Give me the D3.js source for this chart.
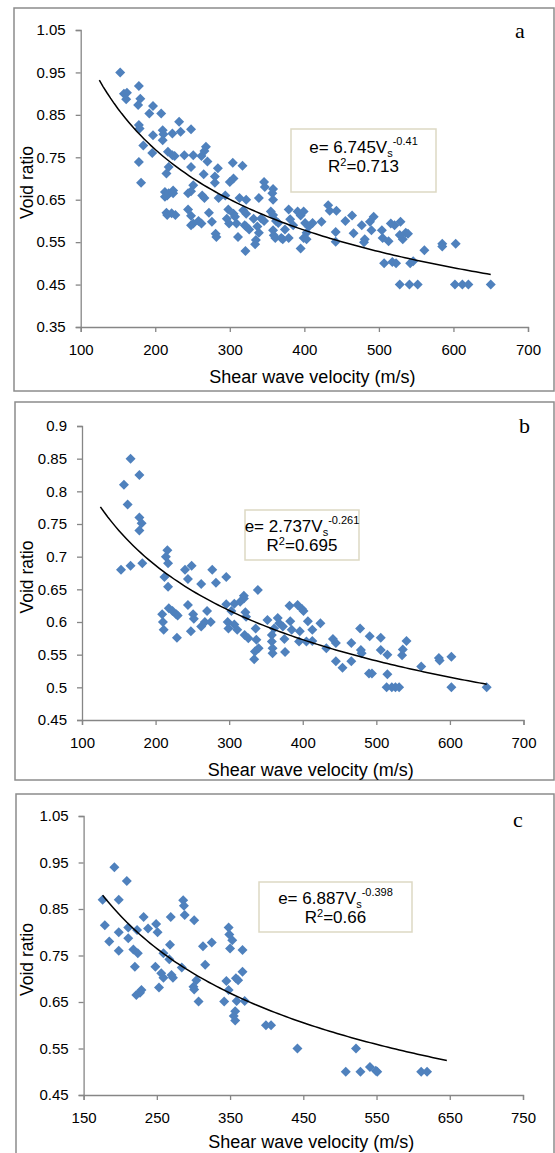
<!DOCTYPE html>
<html>
<head>
<meta charset="utf-8">
<script src="https://cdn.jsdelivr.net/npm/d3@7"></script>
<style>
  body { margin: 0; background: #fff; }
  svg text { font-family: "Liberation Sans", Arial, sans-serif; fill: #000; }
</style>
</head>
<body>
<div id="run"></div>
<script>
var width = 555,
    height = 1153;

// panel a : all samples
var vsA = [153,158,162,161,178,180,177,197,192,208,178,179,197,184,196,178,181,210,211,210,
           223,232,234,248,217,223,226,239,251,262,268,266,270,248,218,215,265,280,284,304,
           317,305,300,280,251,248,213,224,346,347,358,216,213,218,224,215,216,222,227,244,
           244,248,251,248,258,262,263,266,272,276,281,282,285,294,298,296,299,305,307,311,
           309,313,318,322,322,320,322,321,326,332,337,335,334,339,339,342,346,357,358,355,
           358,358,359,361,362,365,369,371,374,379,381,379,385,391,395,395,399,401,403,399,
           403,406,411,423,432,434,443,442,442,455,464,466,477,481,480,488,493,490,504,505,
           507,513,516,518,521,529,528,532,536,539,542,528,541,552,561,585,585,603,602,612,
           620,650,523,546];
var eA  = [0.95,0.90,0.902,0.887,0.918,0.888,0.873,0.871,0.853,0.853,0.826,0.818,0.802,0.778,0.76,0.739,0.69,0.814,0.804,0.79,
           0.806,0.834,0.81,0.816,0.763,0.755,0.753,0.755,0.755,0.753,0.775,0.765,0.74,0.727,0.727,0.712,0.71,0.705,0.724,0.737,
           0.73,0.70,0.692,0.69,0.684,0.67,0.668,0.672,0.692,0.68,0.675,0.66,0.657,0.665,0.665,0.619,0.614,0.618,0.614,0.665,
           0.627,0.612,0.594,0.59,0.60,0.594,0.66,0.654,0.619,0.598,0.57,0.562,0.654,0.66,0.627,0.605,0.594,0.617,0.61,0.562,
           0.594,0.654,0.625,0.617,0.65,0.59,0.587,0.529,0.58,0.605,0.587,0.555,0.545,0.572,0.654,0.606,0.60,0.665,0.65,0.622,
           0.614,0.578,0.566,0.56,0.60,0.595,0.56,0.557,0.58,0.627,0.604,0.56,0.59,0.622,0.613,0.535,0.622,0.595,0.572,0.56,
           0.557,0.587,0.595,0.598,0.637,0.624,0.624,0.574,0.551,0.60,0.613,0.571,0.59,0.557,0.55,0.598,0.61,0.578,0.578,0.56,
           0.50,0.552,0.594,0.503,0.59,0.598,0.567,0.557,0.572,0.57,0.50,0.45,0.45,0.45,0.531,0.546,0.54,0.546,0.45,0.45,
           0.45,0.45,0.50,0.505];

// panel b
var vsB = [166,157,178,162,178,181,178,153,166,182,216,214,217,212,217,240,249,244,262,277,
           282,296,339,320,209,210,211,218,223,228,230,229,244,251,252,248,262,270,275,267,
           296,298,299,303,307,307,311,315,320,322,323,321,326,336,337,340,335,334,352,358,
           358,359,359,361,366,368,373,375,376,382,383,385,393,396,395,399,401,407,405,413,
           413,424,432,441,445,445,454,466,466,478,479,480,490,494,491,506,506,515,515,514,
           521,526,531,535,536,541,561,585,586,602,602,650];
var eB  = [0.85,0.81,0.825,0.78,0.76,0.751,0.74,0.68,0.686,0.69,0.71,0.70,0.69,0.669,0.654,0.68,0.686,0.666,0.658,0.68,
           0.66,0.669,0.649,0.64,0.612,0.60,0.588,0.621,0.617,0.612,0.61,0.576,0.626,0.612,0.605,0.586,0.593,0.617,0.60,0.60,
           0.627,0.60,0.59,0.617,0.628,0.596,0.588,0.631,0.636,0.615,0.608,0.58,0.575,0.59,0.573,0.56,0.555,0.543,0.603,0.58,
           0.57,0.56,0.552,0.59,0.606,0.598,0.593,0.574,0.554,0.625,0.601,0.588,0.626,0.586,0.57,0.62,0.617,0.601,0.57,0.588,
           0.571,0.598,0.56,0.574,0.568,0.54,0.53,0.54,0.568,0.59,0.557,0.552,0.521,0.521,0.578,0.576,0.557,0.55,0.52,0.50,
           0.50,0.50,0.50,0.549,0.558,0.571,0.532,0.545,0.541,0.547,0.50,0.50];

// panel c
var vsC = [192,209,176,198,179,198,185,198,211,211,218,224,220,223,232,238,249,251,248,256,
           269,259,268,267,270,286,287,288,301,284,313,325,316,348,349,353,350,367,367,259,
           272,253,222,229,227,300,301,304,307,342,345,348,358,361,359,370,357,355,357,399,
           406,442,508,522,528,541,549,551,611,619];
var eC  = [0.94,0.91,0.87,0.87,0.815,0.80,0.78,0.76,0.81,0.787,0.763,0.755,0.726,0.805,0.833,0.808,0.818,0.80,0.726,0.712,
           0.833,0.755,0.773,0.742,0.708,0.869,0.857,0.837,0.826,0.724,0.77,0.778,0.73,0.81,0.795,0.783,0.765,0.762,0.715,0.702,
           0.702,0.681,0.665,0.676,0.670,0.683,0.677,0.697,0.651,0.651,0.695,0.676,0.701,0.697,0.652,0.652,0.63,0.62,0.61,0.60,
           0.60,0.55,0.50,0.55,0.50,0.51,0.502,0.50,0.50,0.50];

// axis ticks
var xTicksAB = [100,200,300,400,500,600,700];
var xTicksC  = [150,250,350,450,550,650,750];
var yTicksA  = [0.35,0.45,0.55,0.65,0.75,0.85,0.95,1.05];
var yTicksB  = [0.45,0.5,0.55,0.6,0.65,0.7,0.75,0.8,0.85,0.9];
var yTicksC  = [0.45,0.55,0.65,0.75,0.85,0.95,1.05];

// power fits e = k * Vs^p, drawn over [from, to]
var fitA = [6.745, -0.41, 125, 650];
var fitB = [2.737, -0.261, 125, 650];
var fitC = [6.887, -0.398, 176, 650];

var panels = [
  { id: "a", vs: vsA, e: eA, xt: xTicksAB, yt: yTicksA, fit: fitA, k: "6.745", p: "-0.41", r2: "0.713",
    frame: [14, 8, 554, 391], x: [80.7, 528], y: [327, 30], titleDy: 56,
    box: [291, 129, 436, 192], l1: 153, l2: 172, letter: [515, 38] },
  { id: "b", vs: vsB, e: eB, xt: xTicksAB, yt: yTicksB, fit: fitB, k: "2.737", p: "-0.261", r2: "0.695",
    frame: [15, 402, 554, 780], x: [82, 523.5], y: [720, 426], titleDy: 56,
    box: [245, 510, 359, 560], l1: 532, l2: 551, letter: [519, 433] },
  { id: "c", vs: vsC, e: eC, xt: xTicksC, yt: yTicksC, fit: fitC, k: "6.887", p: "-0.398", r2: "0.66",
    frame: [16, 794, 554, 1170], x: [83.6, 523], y: [1095, 816], titleDy: 53,
    box: [259, 882, 412, 932], l1: 904, l2: 923, letter: [513, 827] }
];

var svg = d3.select("#run").append("svg")
    .attr("width", width)
    .attr("height", height);

var axisColor = "#868686",
    dotColor = "#4f81bd";

panels.forEach(drawPanel);

function drawPanel(p) {
  var g = svg.append("g");

  g.append("rect")
      .attr("x", p.frame[0])
      .attr("y", p.frame[1])
      .attr("width", p.frame[2] - p.frame[0])
      .attr("height", p.frame[3] - p.frame[1])
      .style("fill", "#fff")
      .style("stroke", "#8c8c8c")
      .style("stroke-width", 1.5);

  var x = d3.scaleLinear().domain(d3.extent(p.xt)).range(p.x);
  var y = d3.scaleLinear().domain(d3.extent(p.yt)).range(p.y);

  // axes
  var xAxis = g.append("g")
      .attr("transform", "translate(0," + p.y[0] + ")")
      .call(d3.axisBottom(x).tickValues(p.xt).tickSize(5).tickPadding(12).tickFormat(d3.format("d")));
  var yAxis = g.append("g")
      .attr("transform", "translate(" + p.x[0] + ",0)")
      .call(d3.axisLeft(y).tickValues(p.yt).tickSize(5).tickPadding(10).tickFormat(function(d) { return +d.toFixed(2) + ""; }));

  [xAxis, yAxis].forEach(function(a) {
    a.select(".domain").style("stroke", axisColor).style("stroke-width", 1.3);
    a.selectAll(".tick line").style("stroke", axisColor).style("stroke-width", 1.3);
    a.selectAll(".tick text").style("font-size", "15px").style("fill", "#000")
        .style("font-family", '"Liberation Sans", Arial, sans-serif');
  });

  // points
  var pts = p.vs.map(function(v, i) { return [v, p.e[i]]; });
  var diamond = d3.symbol().type(d3.symbolSquare).size(50);
  g.append("g").selectAll("path")
      .data(pts)
    .enter().append("path")
      .attr("d", diamond)
      .attr("transform", function(d) { return "translate(" + x(d[0]) + "," + y(d[1]) + ") rotate(45)"; })
      .style("fill", dotColor);

  // trend line
  var f = p.fit;
  var vals = d3.range(f[2], f[3] + 0.1, 5);
  var line = d3.line()
      .x(function(v) { return x(v); })
      .y(function(v) { return y(f[0] * Math.pow(v, f[1])); });
  g.append("path")
      .datum(vals)
      .attr("d", line)
      .style("fill", "none")
      .style("stroke", "#000")
      .style("stroke-width", 1.5);

  // equation box
  var b = p.box,
      cx = (b[0] + b[2]) / 2;
  g.append("rect")
      .attr("x", b[0]).attr("y", b[1])
      .attr("width", b[2] - b[0]).attr("height", b[3] - b[1])
      .style("fill", "#fff")
      .style("stroke", "#ddd9c3")
      .style("stroke-width", 1.5);
  var t1 = g.append("text")
      .attr("x", cx).attr("y", p.l1)
      .attr("text-anchor", "middle")
      .style("font-size", "17px");
  t1.append("tspan").text("e= " + p.k + "V");
  t1.append("tspan").attr("dy", 4).style("font-size", "11px").text("s");
  t1.append("tspan").attr("dy", -12).style("font-size", "11px").text(p.p);
  var t2 = g.append("text")
      .attr("x", cx).attr("y", p.l2)
      .attr("text-anchor", "middle")
      .style("font-size", "17px");
  t2.append("tspan").text("R");
  t2.append("tspan").attr("dy", -6).style("font-size", "11px").text("2");
  t2.append("tspan").attr("dy", 6).text("=" + p.r2);

  // titles
  g.append("text")
      .attr("x", (p.x[0] + p.x[1]) / 2 + 8)
      .attr("y", p.y[0] + p.titleDy)
      .attr("text-anchor", "middle")
      .style("font-size", "18px")
      .text("Shear wave velocity (m/s)");
  g.append("text")
      .attr("transform", "translate(33," + ((p.y[0] + p.y[1]) / 2 + 4) + ") rotate(-90)")
      .attr("text-anchor", "middle")
      .style("font-size", "17.5px")
      .text("Void ratio");

  g.append("text")
      .attr("x", p.letter[0]).attr("y", p.letter[1])
      .style("font-family", '"Liberation Serif", "Times New Roman", serif')
      .style("font-size", "22px")
      .text(p.id);
}
</script>
</body>
</html>
